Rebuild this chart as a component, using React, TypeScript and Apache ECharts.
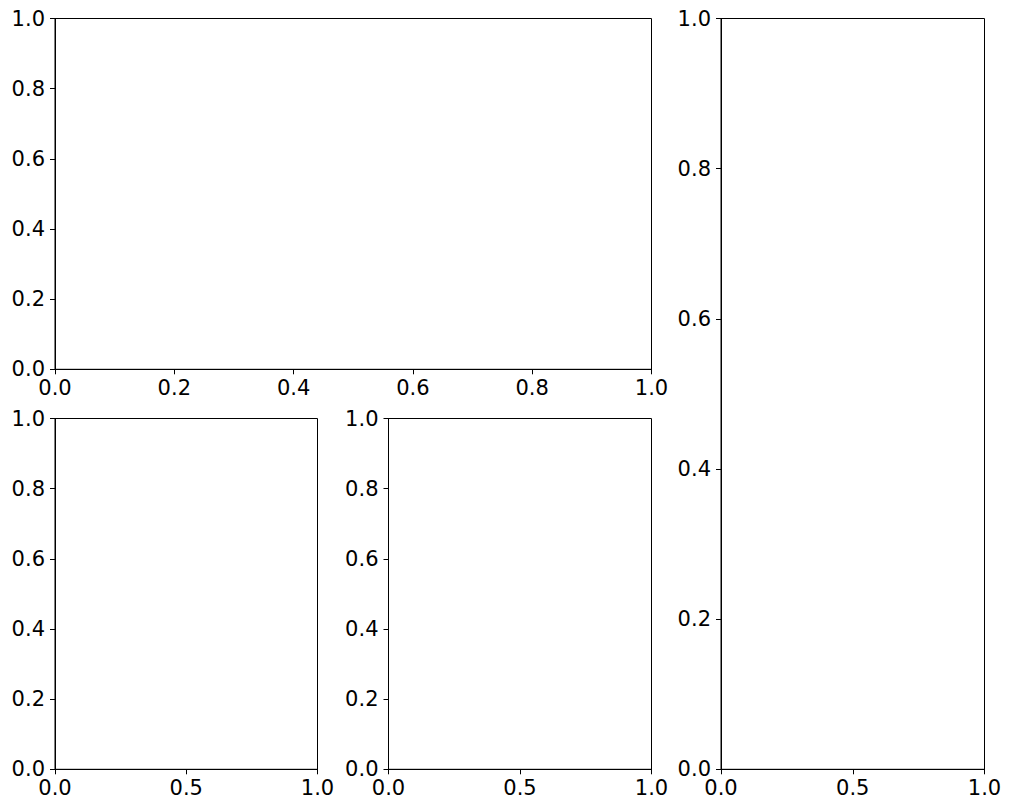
import React, { useEffect, useRef } from "react";
import * as echarts from "echarts";

// Four empty panels, each spanning 0..1 on both axes
const axisRange = [0, 1];
const xTickSteps = [0.2, 0.5, 0.5, 0.5];
const yTickSteps = [0.2, 0.2, 0.2, 0.2];

const gridBoxes = [
  { left: 55, top: 18.5, width: 596.5, height: 350.8 },
  { left: 55, top: 418.5, width: 262.5, height: 350.8 },
  { left: 388.5, top: 418.5, width: 263, height: 350.8 },
  { left: 721, top: 18.5, width: 263.5, height: 750.8 },
];

const FONT = "DejaVu Sans";

export default function App() {
  const ref = useRef<HTMLDivElement>(null);
  useEffect(() => {
    document.body.style.margin = "0";
    if (!ref.current) return;
    const chart = echarts.init(ref.current, null, { renderer: "svg" });
    const common = (step: number, isX: boolean) => ({
      type: "value",
      min: axisRange[0],
      max: axisRange[1],
      interval: step,
      axisLine: { show: true, onZero: false, lineStyle: { color: "#000", width: 1 } },
      axisTick: { show: true, inside: false, length: 5, lineStyle: { color: "#000", width: 1 } },
      splitLine: { show: false },
      axisLabel: {
        show: true,
        color: "#000",
        fontFamily: FONT,
        fontSize: 21,
        margin: isX ? 8 : 10,
        formatter: (v: number) => v.toFixed(1),
      },
    });
    chart.setOption({
      animation: false,
      backgroundColor: "#fff",
      grid: gridBoxes.map((g) => ({
        ...g,
        show: true,
        borderColor: "#000",
        borderWidth: 1,
        backgroundColor: "transparent",
        containLabel: false,
      })),
      xAxis: xTickSteps.map((s, i) => ({ ...common(s, true), gridIndex: i, position: "bottom" })),
      yAxis: yTickSteps.map((s, i) => ({ ...common(s, false), gridIndex: i, position: "left" })),
      series: [],
    });
    return () => chart.dispose();
  }, []);
  return <div ref={ref} style={{ width: 1011, height: 811 }} />;
}
